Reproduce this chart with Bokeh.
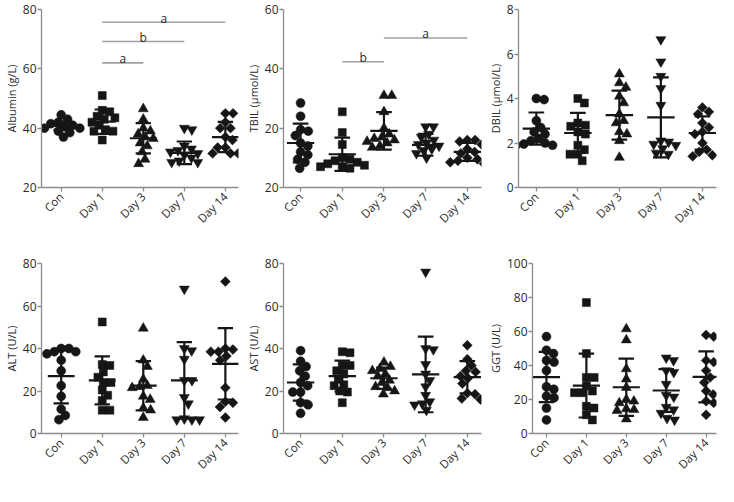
import math
from bokeh.plotting import figure
from bokeh.layouts import row, column
from bokeh.models import FixedTicker
from bokeh.embed import file_html
from bokeh.resources import INLINE
from bokeh.core.properties import value

categories = ["Con", "Day 1", "Day 3", "Day 7", "Day 14"]

albumin_points = [
    [44.5, 43, 42, 41.5, 41, 40.5, 40, 40, 39.5, 39, 38.5, 37],
    [51, 46, 45.5, 44, 43.5, 43, 42, 41, 39.5, 39, 39, 36],
    [46.5, 43, 40, 39, 38, 37, 36.5, 35, 34, 32, 29.5, 28],
    [40, 39.5, 34, 33, 32.5, 32, 31.5, 31, 30, 29, 28.5, 28.5],
    [45, 45, 42, 40, 40, 37, 36, 33.5, 33.5, 31.5, 31.5, 31.5],
]
albumin_mean = [40.8, 42.2, 36.6, 31.7, 37.0]
albumin_sd = [1.4, 4.1, 5.1, 3.8, 5.1]
albumin_sig_from = [2, 2, 2]
albumin_sig_to = [3, 4, 5]
albumin_sig_y = [62, 69.2, 75.7]
albumin_sig_text = ["a", "b", "a"]

tbil_points = [
    [28.5, 24, 19.5, 19, 17.5, 15, 14, 12, 11, 9.5, 8.5, 6.5],
    [25.5, 18.5, 14.5, 10, 9.5, 9, 8.5, 8, 7.5, 7, 7, 6.5],
    [31, 31, 25.5, 20, 18, 17, 16.5, 16, 15.5, 15, 14, 13.5],
    [20.5, 20.5, 18, 17, 16, 15, 14.5, 14, 13, 12.5, 11.5, 10],
    [16, 16, 15.5, 14.5, 13, 12, 11.5, 10, 9.5, 9, 8.5, 8],
]
tbil_mean = [15.0, 11.2, 19.1, 14.4, 12.0]
tbil_sd = [6.5, 5.6, 6.3, 3.7, 3.0]
tbil_sig_from = [2, 3]
tbil_sig_to = [3, 5]
tbil_sig_y = [42.4, 50.4]
tbil_sig_text = ["b", "a"]

dbil_points = [
    [4.0, 3.95, 3.0, 2.7, 2.5, 2.4, 2.2, 2.1, 2.0, 1.95, 1.9, 1.9],
    [4.0, 3.8, 2.9, 2.8, 2.75, 2.5, 2.4, 1.9, 1.7, 1.5, 1.5, 1.2],
    [5.1, 4.7, 4.5, 4.1, 3.8, 3.3, 3.0, 2.9, 2.5, 2.4, 2.1, 1.35],
    [6.65, 5.65, 5.0, 4.45, 3.7, 2.1, 2.05, 1.95, 1.9, 1.75, 1.55, 1.5],
    [3.6, 3.4, 3.3, 2.9, 2.7, 2.5, 2.4, 2.0, 1.7, 1.6, 1.45, 1.4],
]
dbil_mean = [2.65, 2.45, 3.25, 3.15, 2.45]
dbil_sd = [0.72, 0.9, 1.1, 1.8, 0.75]

alt_points = [
    [40, 40, 38.5, 38.5, 37.5, 34.5, 29.5, 22.5, 17.5, 11.5, 8.5, 6.5],
    [52.5, 32.5, 32, 29, 26.5, 24, 24, 20.5, 18, 15.5, 11, 11],
    [49.5, 34.5, 31.5, 25.5, 22.5, 22, 21.5, 17.5, 16, 12, 11, 7.5],
    [68, 40, 39, 35, 25, 25, 17, 14, 7, 6.5, 6.5, 6.5],
    [71.5, 40, 39.5, 38.5, 38.5, 36.5, 34.5, 21.5, 15, 14.5, 12.5, 7.5],
]
alt_mean = [27, 25, 22.5, 25, 32.8]
alt_sd = [12.8, 11.3, 11.6, 18, 16.8]

ast_points = [
    [39, 34, 31.5, 29.5, 27, 24, 22.5, 19.5, 19.5, 14.5, 13.5, 9.5],
    [38.5, 38, 32, 32, 29.5, 28, 25.5, 23, 22.5, 20, 19.5, 14.5],
    [33.5, 31.5, 30.5, 29.5, 28, 27, 25, 24, 22, 21.5, 20, 18.5],
    [76, 40, 39.5, 32.5, 28, 25, 22, 18, 15, 14, 13.5, 11],
    [41.5, 35, 32, 29.5, 29, 27, 26, 23.5, 19, 18.5, 16.5, 16],
]
ast_mean = [24, 27, 26, 27.8, 26.5]
ast_sd = [8.5, 7.3, 5, 17.8, 7.6]

ggt_points = [
    [57, 49, 47, 43, 42, 37, 27.5, 26, 22, 21, 15, 8],
    [77, 47, 33, 33, 28, 25, 24, 24, 16, 15, 11, 8],
    [61.5, 55, 38, 32, 27, 20, 19, 18, 14.5, 14, 13.5, 8.5],
    [44.5, 43, 37, 36, 29, 22.5, 21.5, 15.5, 14, 12, 9, 8],
    [58, 57, 43, 42, 37, 33, 30, 25, 23, 19, 18, 11],
]
ggt_mean = [33.2, 28.2, 27.2, 25.3, 33.3]
ggt_sd = [14.8, 18.8, 16.8, 12.6, 15]

FONT = "Open Sans"
TXT = "#2b2b2b"
AX = "#8c8c8c"
INK = "#161616"
SIG = "#a0a0a0"

MARKERS = [("circle", 9, 0.0), ("square", 8, 0.0), ("triangle", 10, 0.0),
           ("inverted_triangle", 10, 0.0), ("square", 7, math.pi / 4)]


def swarm(vals, ppu_y, ppu_x, d=8.0):
    n = len(vals)
    order = sorted(range(n), key=lambda i: -vals[i])
    placed = []
    offs = [0.0] * n
    for i in order:
        y = vals[i] * ppu_y
        cands = [0.0]
        for px, py in placed:
            dy = abs(py - y)
            if dy < d:
                dx = math.sqrt(d * d - dy * dy)
                cands += [px + dx, px - dx]
        cands.sort(key=lambda c: (round(abs(c), 6), -c))
        for c in cands:
            if all((c - px) ** 2 + (y - py) ** 2 >= d * d - 1e-6 for px, py in placed):
                offs[i] = c
                break
        placed.append((offs[i], y))
    return [o / ppu_x for o in offs]


def panel(points, means, sds, ylabel, yr, yticks, xr, W, H, bl, br, bt, bb,
          overrides=None, sig=None):
    p = figure(width=W, height=H, x_range=xr, y_range=yr,
               output_backend="svg", toolbar_location=None,
               min_border_left=bl, min_border_right=br,
               min_border_top=bt, min_border_bottom=bb)
    p.outline_line_color = None
    p.grid.visible = False
    p.background_fill_color = "white"
    p.border_fill_color = "white"
    fw = W - bl - br
    fh = H - bt - bb
    ppu_x = fw / (xr[1] - xr[0])
    ppu_y = fh / (yr[1] - yr[0])

    p.xaxis.ticker = FixedTicker(ticks=[1, 2, 3, 4, 5])
    p.xaxis.major_label_overrides = {i + 1: c for i, c in enumerate(categories)}
    p.xaxis.major_label_orientation = math.pi / 4
    p.xaxis.major_label_standoff = 3
    p.yaxis.ticker = FixedTicker(ticks=yticks)
    if overrides:
        p.yaxis.major_label_overrides = overrides
    p.yaxis.major_label_standoff = 1
    p.yaxis.axis_label = ylabel
    p.yaxis.axis_label_standoff = 1
    p.yaxis.axis_label_text_font = FONT
    p.yaxis.axis_label_text_font_size = "11px"
    p.yaxis.axis_label_text_font_style = "normal"
    p.yaxis.axis_label_text_color = TXT
    for ax in (p.xaxis, p.yaxis):
        ax.axis_line_color = AX
        ax.axis_line_width = 1.3
        ax.major_tick_line_color = AX
        ax.major_tick_line_width = 1.3
        ax.major_tick_out = 4
        ax.major_tick_in = 0
        ax.minor_tick_line_color = None
        ax.major_label_text_font = FONT
        ax.major_label_text_color = TXT
    p.yaxis.major_label_text_font_size = "12px"
    p.xaxis.major_label_text_font_size = "11.5px"

    for gi, vals in enumerate(points):
        xc = gi + 1
        offs = swarm(vals, ppu_y, ppu_x)
        mk, sz, ang = MARKERS[gi]
        p.scatter([xc + o for o in offs], vals, marker=mk, size=sz, angle=ang,
                  fill_color=INK, line_color=INK, line_width=0.5)
        m = means[gi]
        s = sds[gi]
        hw = 14 / ppu_x
        cw = 8 / ppu_x
        p.segment([xc - hw], [m], [xc + hw], [m], line_color=INK, line_width=2.2)
        p.segment([xc], [m - s], [xc], [m + s], line_color=INK, line_width=2.2)
        p.segment([xc - cw, xc - cw], [m - s, m + s], [xc + cw, xc + cw], [m - s, m + s],
                  line_color=INK, line_width=2.2)

    if sig:
        f, t, ys, labs = sig
        p.segment(f, ys, t, ys, line_color=SIG, line_width=1.6)
        p.text([(a + b) / 2 for a, b in zip(f, t)], ys, text=labs,
               text_align="center", text_baseline="alphabetic", y_offset=-4,
               text_font=value(FONT), text_font_size="12px", text_color=TXT)
    return p


p1 = panel(albumin_points, albumin_mean, albumin_sd, "Albumin (g/L)", (20, 80),
           [20, 40, 60, 80], (0.52, 5.32), 242, 242, 32, 4, 9, 55,
           sig=(albumin_sig_from, albumin_sig_to, albumin_sig_y, albumin_sig_text))
p2 = panel(tbil_points, tbil_mean, tbil_sd, "TBIL (\u03bcmol/L)", (0, 60),
           [0, 20, 40, 60], (0.59, 5.34), 242, 242, 36, 3, 9, 55,
           overrides={0: "20"},
           sig=(tbil_sig_from, tbil_sig_to, tbil_sig_y, tbil_sig_text))
p3 = panel(dbil_points, dbil_mean, dbil_sd, "DBIL (\u03bcmol/L)", (0, 8),
           [0, 2, 4, 6, 8], (0.57, 5.34), 234, 242, 30, 2, 9, 55)
p4 = panel(alt_points, alt_mean, alt_sd, "ALT (U/L)", (0, 80),
           [0, 20, 40, 60, 80], (0.52, 5.32), 242, 244, 32, 4, 10, 53)
p5 = panel(ast_points, ast_mean, ast_sd, "AST (U/L)", (0, 80),
           [0, 20, 40, 60, 80], (0.59, 5.34), 242, 244, 36, 3, 10, 53)
p6 = panel(ggt_points, ggt_mean, ggt_sd, "GGT (U/L)", (0, 100),
           [0, 20, 40, 60, 80, 100], (0.65, 5.26), 234, 244, 42, 2, 21, 53)

layout = column(row(p1, p2, p3), row(p4, p5, p6))
open("out.html", "w").write(file_html(layout, INLINE))
